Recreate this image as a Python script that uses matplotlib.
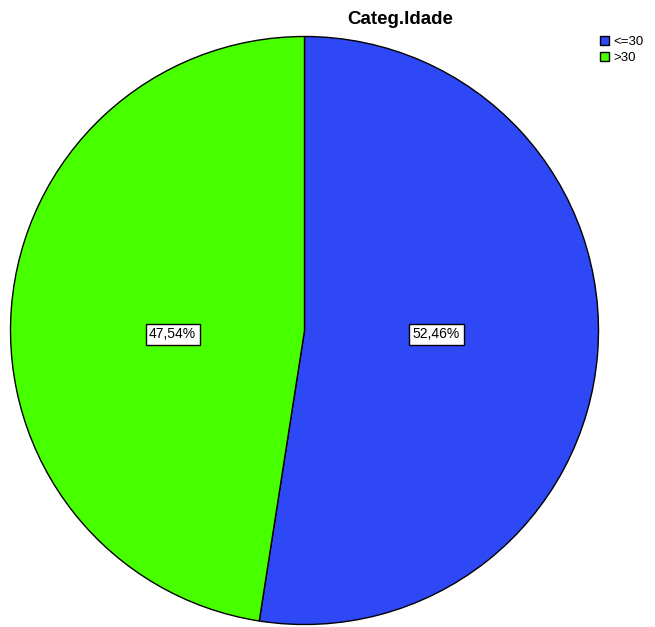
import matplotlib
matplotlib.use("Agg")
import matplotlib.pyplot as plt

categories = ["<=30", ">30"]
values = [52.46, 47.54]
colors = ["#2E48F6", "#48FF00"]
title = "Categ.Idade"

plt.rcParams['font.family'] = ['Liberation Sans', 'DejaVu Sans']

W, H = 655, 627
fig = plt.figure(figsize=(W / 100, H / 100), dpi=100)
cx, cy, r = 304.5, 330.5, 294
ax = fig.add_axes([(cx - r) / W, (H - cy - r) / H, 2 * r / W, 2 * r / H])

wedges, texts, autotexts = ax.pie(
    values, colors=colors, startangle=90, counterclock=False,
    autopct=lambda p: f"{p:.2f}%".replace(".", ","), pctdistance=0.45,
    wedgeprops=dict(edgecolor="black", linewidth=1.0),
    textprops=dict(fontsize=10, color="black"))
for t in autotexts:
    x, _ = t.get_position()
    t.set_position((x, -0.012))
    t.set_bbox(dict(boxstyle="square,pad=0.25", facecolor="white", edgecolor="black", linewidth=1.0))
ax.set_xlim(-1.0, 1.0)
ax.set_ylim(-1.0, 1.0)
ax.set_aspect("equal")
ax.axis("off")

fig.text(400 / W, 1 - 20 / H, title, ha="center", va="center", fontsize=13.5, fontweight="bold")

leg = fig.legend(wedges, categories, loc="upper left", bbox_to_anchor=(600 / W, 1 - 36 / H),
                 frameon=False, fontsize=9.5, handlelength=0.7, handleheight=0.7,
                 handletextpad=0.3, labelspacing=0.25, borderaxespad=0, borderpad=0)

fig.savefig("out.png", dpi=100)
